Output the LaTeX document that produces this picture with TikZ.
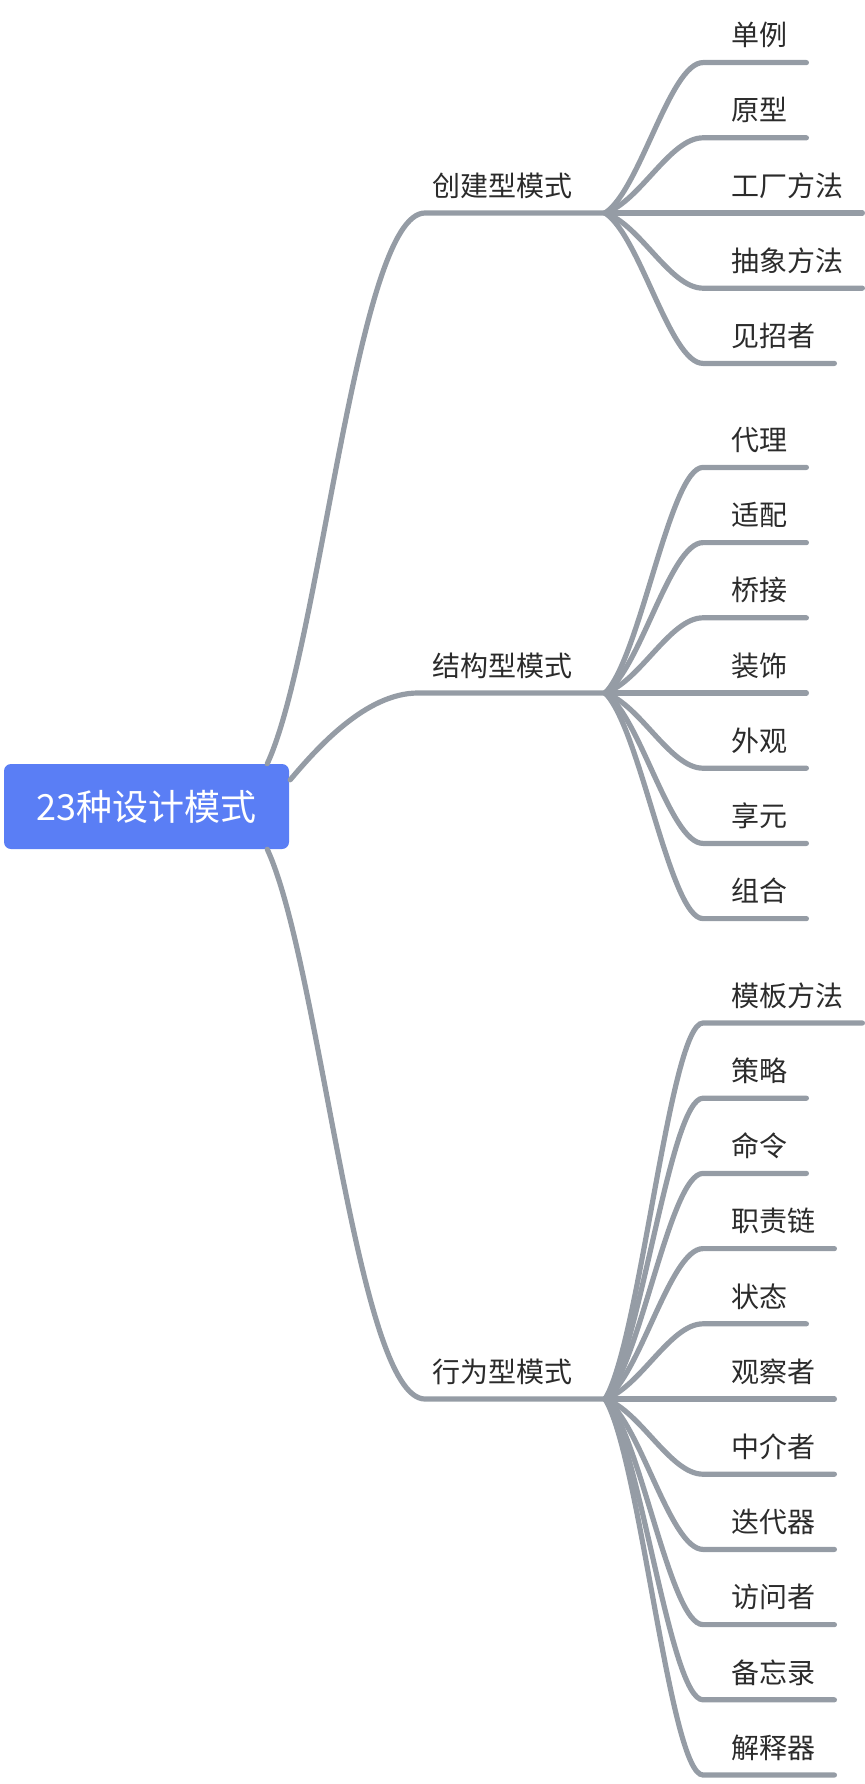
\documentclass[tikz,border=0pt]{standalone}
\usepackage{fontspec}
\newfontfamily\cjk{Noto Sans CJK SC}
\usetikzlibrary{calc}
\definecolor{lineclr}{HTML}{959CA5}
\definecolor{rootclr}{HTML}{5A7EF5}
\definecolor{txtclr}{HTML}{2B2B2B}
\begin{document}
\begin{tikzpicture}[x=1pt,y=-1pt,
  conn/.style={draw=lineclr, line width=5.2pt, line cap=round},
  leaf/.style={anchor=west, inner sep=0pt, text=txtclr, font={\cjk\fontsize{28}{34}\selectfont}},
  rootbox/.style={fill=rootclr, rounded corners=7pt, minimum width=285pt, minimum height=85pt,
    inner sep=0pt, text=white, font={\cjk\fontsize{36}{42}\selectfont}}]
\useasboundingbox (0,0) rectangle (864,1784);

% root
\node[rootbox] (root) at (146.5,806.5) {23种设计模式};
\coordinate (rtop) at ($(root.north east)+(-22,0)$);
\coordinate (rmid) at ($(root.north east)+(1,16)$);
\coordinate (rbot) at ($(root.south east)+(-22,0)$);

% first-level branches
\node[leaf] (cre) at (432,186) {创建型模式};
\coordinate (creH) at (425,213);
\coordinate (creE) at (605,213);
\node[leaf] (str) at (432,666) {结构型模式};
\coordinate (strH) at (418,693);
\coordinate (strE) at (605,693);
\node[leaf] (beh) at (432,1372) {行为型模式};
\coordinate (behH) at (425,1399);
\coordinate (behE) at (605,1399);

\draw[conn] (rtop) .. controls +(53,-114) and +(-68,0) .. (creH) -- (creE);
\draw[conn] (rmid) .. controls +(27,-32) and +(-52,0) .. (strH) -- (strE);
\draw[conn] (rbot) .. controls +(53,114) and +(-68,0) .. (behH) -- (behE);

% creational children
\foreach \n/\lbl [count=\i from 0] in {ca/单例, cb/原型, cc/工厂方法, cd/抽象方法, ce/见招者} {
  \pgfmathsetmacro\yy{213+(\i-2)*75.2}
  \pgfmathsetmacro\dd{0.15*(\yy-213)}
  \coordinate (s\n) at (703,\yy);
  \node[leaf] (\n) at (731,\yy-27.5) {\lbl};
  \draw[conn] (creE) .. controls +(35,\dd) and +(-33,0) .. (s\n) -- ($(\n.east |- s\n)+(19,0)$);
}

% structural children
\foreach \n/\lbl [count=\i from 0] in {sa/代理, sb/适配, sc/桥接, sd/装饰, se/外观, sf/享元, sg/组合} {
  \pgfmathsetmacro\yy{693+(\i-3)*75.2}
  \pgfmathsetmacro\dd{0.15*(\yy-693)}
  \coordinate (s\n) at (703,\yy);
  \node[leaf] (\n) at (731,\yy-27.5) {\lbl};
  \draw[conn] (strE) .. controls +(35,\dd) and +(-33,0) .. (s\n) -- ($(\n.east |- s\n)+(19,0)$);
}

% behavioural children
\foreach \n/\lbl [count=\i from 0] in {ba/模板方法, bb/策略, bc/命令, bd/职责链, be/状态, bf/观察者, bg/中介者, bh/迭代器, bi/访问者, bj/备忘录, bk/解释器} {
  \pgfmathsetmacro\yy{1399+(\i-5)*75.2}
  \pgfmathsetmacro\dd{0.15*(\yy-1399)}
  \coordinate (s\n) at (703,\yy);
  \node[leaf] (\n) at (731,\yy-27.5) {\lbl};
  \draw[conn] (behE) .. controls +(35,\dd) and +(-33,0) .. (s\n) -- ($(\n.east |- s\n)+(19,0)$);
}
\end{tikzpicture}
\end{document}
